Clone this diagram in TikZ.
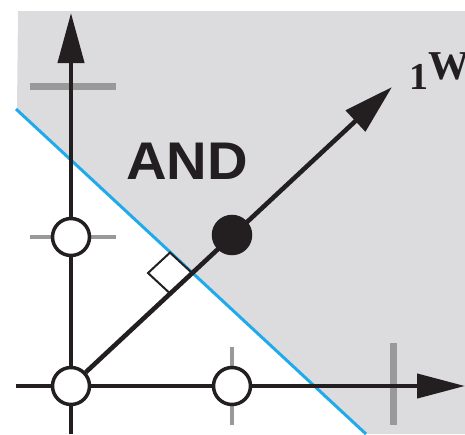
\documentclass[tikz,border=0pt]{standalone}
\usepackage{fontspec}
\setmainfont{Liberation Serif}
\setsansfont{Liberation Sans}
\usetikzlibrary{arrows.meta}
\definecolor{bgray}{RGB}{220,220,223}
\definecolor{tgray}{RGB}{153,153,153}
\definecolor{bline}{RGB}{30,170,235}
\definecolor{ink}{RGB}{35,31,32}
\begin{document}
\begin{tikzpicture}[x=1pt,y=-1pt,
  pt/.style={circle,draw=ink,line width=3.5pt,fill=white,minimum size=37pt,inner sep=0pt},
  ptfill/.style={pt,fill=ink},
  axis/.style={draw=ink,line width=4.2pt},
  bigtick/.style={draw=tgray,line width=7pt},
  smalltick/.style={draw=tgray,line width=4pt},
]
\useasboundingbox (0,0) rectangle (465,434);
\fill[bgray] (18,11) -- (465,11) -- (465,434) -- (365,434) -- (17,110) -- cycle;
\draw[bline, line width=3pt] (16,109) -- (366,434);
\coordinate (yb) at (71,434);
\coordinate (yt) at (71,13);
\coordinate (xl) at (16,386);
\coordinate (xr) at (465,386);
\coordinate (wt) at (392,87);
\coordinate (I) at (192,273);
% ticks
\draw[bigtick] (30,86) -- (116,86);
\draw[bigtick] (393,343) -- (393,425);
\draw[smalltick] (30,237) -- (116,237);
\draw[smalltick] (232,347) -- (232,425);
% axes
\draw[axis,-{Triangle[length=50pt,width=26pt]}] (yb) -- (yt);
\draw[axis,-{Triangle[length=48pt,width=24pt]}] (xl) -- (xr);
% right-angle marker
\draw[draw=ink,fill=white,line width=2pt] (I) -- ++(-22,-20.4) -- ++(-22,20.4) -- ++(22,20.4) -- cycle;
% points
\node[pt] (o) at (71,386) {};
\node[pt] (p01) at (71,237) {};
\node[pt] (p10) at (232,386) {};
\draw[axis,line width=4.6pt,-{Triangle[length=50pt,width=28pt]}] (o) -- (wt);
\node[ptfill] (p11) at (232,235) {};
% labels
\node[text=ink,font=\sffamily\bfseries\fontsize{53}{53}\selectfont,xscale=1.06] (and) at (187,161) {AND};
\node[text=ink,anchor=base west,inner sep=0pt,font=\bfseries\fontsize{38}{38}\selectfont] (wl) at (409,89) {1\raisebox{10pt}{\fontsize{41}{41}\selectfont W}};
\end{tikzpicture}
\end{document}
